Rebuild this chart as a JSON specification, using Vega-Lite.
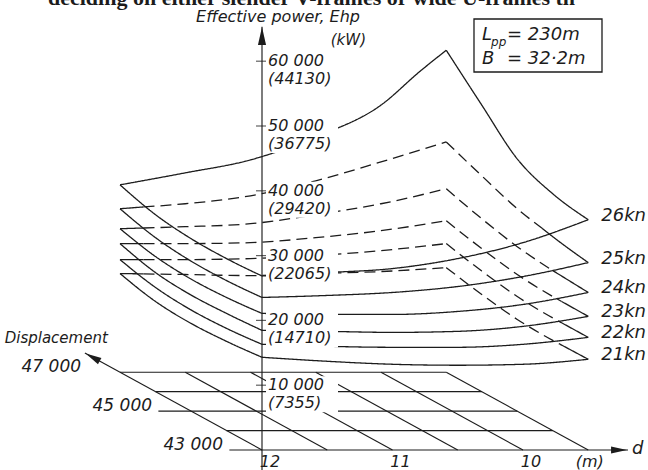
{
  "$schema": "https://vega.github.io/schema/vega-lite/v6.json",
  "width": 648,
  "height": 470,
  "autosize": {"type": "none"},
  "padding": 0,
  "background": "#ffffff",
  "config": {
    "view": {"stroke": null},
    "text": {"font": "DejaVu Sans", "fontStyle": "italic", "fontSize": 17, "color": "#1c1c1c"},
    "line": {"color": "#1c1c1c", "strokeWidth": 1.25}
  },
  "data": {
    "values": [
      {"k":"s","s":"26kn","e":"back","vis":"visible","d":12,"disp":47000,"ehp":28920},
      {"k":"s","s":"26kn","e":"back","vis":"visible","d":11.5,"disp":47000,"ehp":30770},
      {"k":"s","s":"26kn","e":"back","vis":"visible","d":11,"disp":47000,"ehp":32770},
      {"k":"s","s":"26kn","e":"back","vis":"visible","d":10.5,"disp":47000,"ehp":36310},
      {"k":"s","s":"26kn","e":"back","vis":"visible","d":10,"disp":47000,"ehp":41230},
      {"k":"s","s":"26kn","e":"back","vis":"visible","d":9.7,"disp":47000,"ehp":46460},
      {"k":"s","s":"26kn","e":"back","vis":"visible","d":9.5,"disp":47000,"ehp":49690},
      {"k":"s","s":"26kn","e":"right","vis":"visible","d":9.5,"disp":47000,"ehp":49690},
      {"k":"s","s":"26kn","e":"right","vis":"visible","d":9.5,"disp":46000,"ehp":44230},
      {"k":"s","s":"26kn","e":"right","vis":"visible","d":9.5,"disp":45000,"ehp":38920},
      {"k":"s","s":"26kn","e":"right","vis":"visible","d":9.5,"disp":44000,"ehp":36540},
      {"k":"s","s":"26kn","e":"right","vis":"visible","d":9.5,"disp":43000,"ehp":35540},
      {"k":"s","s":"26kn","e":"front","vis":"visible","d":12,"disp":43000,"ehp":26850},
      {"k":"s","s":"26kn","e":"front","vis":"visible","d":11.5,"disp":43000,"ehp":27380},
      {"k":"s","s":"26kn","e":"front","vis":"visible","d":11,"disp":43000,"ehp":28000},
      {"k":"s","s":"26kn","e":"front","vis":"visible","d":10.5,"disp":43000,"ehp":29540},
      {"k":"s","s":"26kn","e":"front","vis":"visible","d":10,"disp":43000,"ehp":32000},
      {"k":"s","s":"26kn","e":"front","vis":"visible","d":9.5,"disp":43000,"ehp":35540},
      {"k":"s","s":"26kn","e":"left","vis":"visible","d":12,"disp":47000,"ehp":28920},
      {"k":"s","s":"26kn","e":"left","vis":"visible","d":12,"disp":46000,"ehp":27310},
      {"k":"s","s":"26kn","e":"left","vis":"visible","d":12,"disp":45000,"ehp":26620},
      {"k":"s","s":"26kn","e":"left","vis":"visible","d":12,"disp":44000,"ehp":26540},
      {"k":"s","s":"26kn","e":"left","vis":"visible","d":12,"disp":43000,"ehp":26850},

      {"k":"s","s":"25kn","e":"back-v","vis":"visible","d":12,"disp":47000,"ehp":25230},
      {"k":"s","s":"25kn","e":"back-v","vis":"visible","d":11.82,"disp":47000,"ehp":25510},
      {"k":"s","s":"25kn","e":"back-h","vis":"hidden","d":11.82,"disp":47000,"ehp":25510},
      {"k":"s","s":"25kn","e":"back-h","vis":"hidden","d":11.5,"disp":47000,"ehp":26000},
      {"k":"s","s":"25kn","e":"back-h","vis":"hidden","d":11,"disp":47000,"ehp":27230},
      {"k":"s","s":"25kn","e":"back-h","vis":"hidden","d":10.5,"disp":47000,"ehp":29540},
      {"k":"s","s":"25kn","e":"back-h","vis":"hidden","d":10,"disp":47000,"ehp":32460},
      {"k":"s","s":"25kn","e":"back-h","vis":"hidden","d":9.5,"disp":47000,"ehp":35540},
      {"k":"s","s":"25kn","e":"right-h","vis":"hidden","d":9.5,"disp":47000,"ehp":35540},
      {"k":"s","s":"25kn","e":"right-h","vis":"hidden","d":9.5,"disp":46000,"ehp":33310},
      {"k":"s","s":"25kn","e":"right-h","vis":"hidden","d":9.5,"disp":45000,"ehp":31230},
      {"k":"s","s":"25kn","e":"right-h","vis":"hidden","d":9.5,"disp":44300,"ehp":30310},
      {"k":"s","s":"25kn","e":"right-v","vis":"visible","d":9.5,"disp":44300,"ehp":30310},
      {"k":"s","s":"25kn","e":"right-v","vis":"visible","d":9.5,"disp":44000,"ehp":29920},
      {"k":"s","s":"25kn","e":"right-v","vis":"visible","d":9.5,"disp":43000,"ehp":28920},
      {"k":"s","s":"25kn","e":"front","vis":"visible","d":12,"disp":43000,"ehp":23540},
      {"k":"s","s":"25kn","e":"front","vis":"visible","d":11.5,"disp":43000,"ehp":23850},
      {"k":"s","s":"25kn","e":"front","vis":"visible","d":11,"disp":43000,"ehp":24310},
      {"k":"s","s":"25kn","e":"front","vis":"visible","d":10.5,"disp":43000,"ehp":25230},
      {"k":"s","s":"25kn","e":"front","vis":"visible","d":10,"disp":43000,"ehp":26770},
      {"k":"s","s":"25kn","e":"front","vis":"visible","d":9.5,"disp":43000,"ehp":28920},
      {"k":"s","s":"25kn","e":"left","vis":"visible","d":12,"disp":47000,"ehp":25230},
      {"k":"s","s":"25kn","e":"left","vis":"visible","d":12,"disp":46000,"ehp":23770},
      {"k":"s","s":"25kn","e":"left","vis":"visible","d":12,"disp":45000,"ehp":23150},
      {"k":"s","s":"25kn","e":"left","vis":"visible","d":12,"disp":44000,"ehp":23150},
      {"k":"s","s":"25kn","e":"left","vis":"visible","d":12,"disp":43000,"ehp":23540},

      {"k":"s","s":"24kn","e":"back-v","vis":"visible","d":12,"disp":47000,"ehp":22150},
      {"k":"s","s":"24kn","e":"back-v","vis":"visible","d":11.82,"disp":47000,"ehp":22260},
      {"k":"s","s":"24kn","e":"back-h","vis":"hidden","d":11.82,"disp":47000,"ehp":22260},
      {"k":"s","s":"24kn","e":"back-h","vis":"hidden","d":11.5,"disp":47000,"ehp":22460},
      {"k":"s","s":"24kn","e":"back-h","vis":"hidden","d":11,"disp":47000,"ehp":22920},
      {"k":"s","s":"24kn","e":"back-h","vis":"hidden","d":10.5,"disp":47000,"ehp":24310},
      {"k":"s","s":"24kn","e":"back-h","vis":"hidden","d":10,"disp":47000,"ehp":26000},
      {"k":"s","s":"24kn","e":"back-h","vis":"hidden","d":9.5,"disp":47000,"ehp":28310},
      {"k":"s","s":"24kn","e":"right-h","vis":"hidden","d":9.5,"disp":47000,"ehp":28310},
      {"k":"s","s":"24kn","e":"right-h","vis":"hidden","d":9.5,"disp":46000,"ehp":26690},
      {"k":"s","s":"24kn","e":"right-h","vis":"hidden","d":9.5,"disp":45000,"ehp":25380},
      {"k":"s","s":"24kn","e":"right-h","vis":"hidden","d":9.5,"disp":44000,"ehp":24690},
      {"k":"s","s":"24kn","e":"right-v","vis":"visible","d":9.5,"disp":44000,"ehp":24690},
      {"k":"s","s":"24kn","e":"right-v","vis":"visible","d":9.5,"disp":43000,"ehp":24310},
      {"k":"s","s":"24kn","e":"front","vis":"visible","d":12,"disp":43000,"ehp":21080},
      {"k":"s","s":"24kn","e":"front","vis":"visible","d":11.5,"disp":43000,"ehp":20920},
      {"k":"s","s":"24kn","e":"front","vis":"visible","d":11,"disp":43000,"ehp":20920},
      {"k":"s","s":"24kn","e":"front","vis":"visible","d":10.5,"disp":43000,"ehp":21380},
      {"k":"s","s":"24kn","e":"front","vis":"visible","d":10,"disp":43000,"ehp":22460},
      {"k":"s","s":"24kn","e":"front","vis":"visible","d":9.5,"disp":43000,"ehp":24310},
      {"k":"s","s":"24kn","e":"left","vis":"visible","d":12,"disp":47000,"ehp":22150},
      {"k":"s","s":"24kn","e":"left","vis":"visible","d":12,"disp":46000,"ehp":20850},
      {"k":"s","s":"24kn","e":"left","vis":"visible","d":12,"disp":45000,"ehp":20380},
      {"k":"s","s":"24kn","e":"left","vis":"visible","d":12,"disp":44000,"ehp":20540},
      {"k":"s","s":"24kn","e":"left","vis":"visible","d":12,"disp":43000,"ehp":21080},

      {"k":"s","s":"23kn","e":"back-v","vis":"visible","d":12,"disp":47000,"ehp":19850},
      {"k":"s","s":"23kn","e":"back-v","vis":"visible","d":11.82,"disp":47000,"ehp":19850},
      {"k":"s","s":"23kn","e":"back-h","vis":"hidden","d":11.82,"disp":47000,"ehp":19850},
      {"k":"s","s":"23kn","e":"back-h","vis":"hidden","d":11.5,"disp":47000,"ehp":19850},
      {"k":"s","s":"23kn","e":"back-h","vis":"hidden","d":11,"disp":47000,"ehp":20000},
      {"k":"s","s":"23kn","e":"back-h","vis":"hidden","d":10.5,"disp":47000,"ehp":20770},
      {"k":"s","s":"23kn","e":"back-h","vis":"hidden","d":10,"disp":47000,"ehp":21850},
      {"k":"s","s":"23kn","e":"back-h","vis":"hidden","d":9.5,"disp":47000,"ehp":23380},
      {"k":"s","s":"23kn","e":"right-h","vis":"hidden","d":9.5,"disp":47000,"ehp":23380},
      {"k":"s","s":"23kn","e":"right-h","vis":"hidden","d":9.5,"disp":46000,"ehp":22080},
      {"k":"s","s":"23kn","e":"right-h","vis":"hidden","d":9.5,"disp":45000,"ehp":21080},
      {"k":"s","s":"23kn","e":"right-h","vis":"hidden","d":9.5,"disp":44000,"ehp":20690},
      {"k":"s","s":"23kn","e":"right-h","vis":"hidden","d":9.5,"disp":43750,"ehp":20670},
      {"k":"s","s":"23kn","e":"right-v","vis":"visible","d":9.5,"disp":43750,"ehp":20670},
      {"k":"s","s":"23kn","e":"right-v","vis":"visible","d":9.5,"disp":43000,"ehp":20620},
      {"k":"s","s":"23kn","e":"front","vis":"visible","d":12,"disp":43000,"ehp":18460},
      {"k":"s","s":"23kn","e":"front","vis":"visible","d":11.5,"disp":43000,"ehp":18310},
      {"k":"s","s":"23kn","e":"front","vis":"visible","d":11,"disp":43000,"ehp":18150},
      {"k":"s","s":"23kn","e":"front","vis":"visible","d":10.5,"disp":43000,"ehp":18310},
      {"k":"s","s":"23kn","e":"front","vis":"visible","d":10,"disp":43000,"ehp":19080},
      {"k":"s","s":"23kn","e":"front","vis":"visible","d":9.5,"disp":43000,"ehp":20620},
      {"k":"s","s":"23kn","e":"left","vis":"visible","d":12,"disp":47000,"ehp":19850},
      {"k":"s","s":"23kn","e":"left","vis":"visible","d":12,"disp":46000,"ehp":18380},
      {"k":"s","s":"23kn","e":"left","vis":"visible","d":12,"disp":45000,"ehp":17920},
      {"k":"s","s":"23kn","e":"left","vis":"visible","d":12,"disp":44000,"ehp":18080},
      {"k":"s","s":"23kn","e":"left","vis":"visible","d":12,"disp":43000,"ehp":18460},

      {"k":"s","s":"22kn","e":"back-v","vis":"visible","d":12,"disp":47000,"ehp":17380},
      {"k":"s","s":"22kn","e":"back-v","vis":"visible","d":11.82,"disp":47000,"ehp":17380},
      {"k":"s","s":"22kn","e":"back-h","vis":"hidden","d":11.82,"disp":47000,"ehp":17380},
      {"k":"s","s":"22kn","e":"back-h","vis":"hidden","d":11.5,"disp":47000,"ehp":17380},
      {"k":"s","s":"22kn","e":"back-h","vis":"hidden","d":11,"disp":47000,"ehp":17540},
      {"k":"s","s":"22kn","e":"back-h","vis":"hidden","d":10.5,"disp":47000,"ehp":18000},
      {"k":"s","s":"22kn","e":"back-h","vis":"hidden","d":10,"disp":47000,"ehp":18770},
      {"k":"s","s":"22kn","e":"back-h","vis":"hidden","d":9.5,"disp":47000,"ehp":19850},
      {"k":"s","s":"22kn","e":"right-h","vis":"hidden","d":9.5,"disp":47000,"ehp":19850},
      {"k":"s","s":"22kn","e":"right-h","vis":"hidden","d":9.5,"disp":46000,"ehp":18620},
      {"k":"s","s":"22kn","e":"right-h","vis":"hidden","d":9.5,"disp":45000,"ehp":17690},
      {"k":"s","s":"22kn","e":"right-h","vis":"hidden","d":9.5,"disp":44000,"ehp":17380},
      {"k":"s","s":"22kn","e":"right-h","vis":"hidden","d":9.5,"disp":43800,"ehp":17380},
      {"k":"s","s":"22kn","e":"right-v","vis":"visible","d":9.5,"disp":43800,"ehp":17380},
      {"k":"s","s":"22kn","e":"right-v","vis":"visible","d":9.5,"disp":43000,"ehp":17380},
      {"k":"s","s":"22kn","e":"front","vis":"visible","d":12,"disp":43000,"ehp":16310},
      {"k":"s","s":"22kn","e":"front","vis":"visible","d":11.5,"disp":43000,"ehp":16000},
      {"k":"s","s":"22kn","e":"front","vis":"visible","d":11,"disp":43000,"ehp":15850},
      {"k":"s","s":"22kn","e":"front","vis":"visible","d":10.5,"disp":43000,"ehp":15850},
      {"k":"s","s":"22kn","e":"front","vis":"visible","d":10,"disp":43000,"ehp":16310},
      {"k":"s","s":"22kn","e":"front","vis":"visible","d":9.5,"disp":43000,"ehp":17380},
      {"k":"s","s":"22kn","e":"left","vis":"visible","d":12,"disp":47000,"ehp":17380},
      {"k":"s","s":"22kn","e":"left","vis":"visible","d":12,"disp":46000,"ehp":16080},
      {"k":"s","s":"22kn","e":"left","vis":"visible","d":12,"disp":45000,"ehp":15620},
      {"k":"s","s":"22kn","e":"left","vis":"visible","d":12,"disp":44000,"ehp":15770},
      {"k":"s","s":"22kn","e":"left","vis":"visible","d":12,"disp":43000,"ehp":16310},

      {"k":"s","s":"21kn","e":"back-v","vis":"visible","d":12,"disp":47000,"ehp":15230},
      {"k":"s","s":"21kn","e":"back-v","vis":"visible","d":11.82,"disp":47000,"ehp":15180},
      {"k":"s","s":"21kn","e":"back-h","vis":"hidden","d":11.82,"disp":47000,"ehp":15180},
      {"k":"s","s":"21kn","e":"back-h","vis":"hidden","d":11.5,"disp":47000,"ehp":15080},
      {"k":"s","s":"21kn","e":"back-h","vis":"hidden","d":11,"disp":47000,"ehp":14920},
      {"k":"s","s":"21kn","e":"back-h","vis":"hidden","d":10.5,"disp":47000,"ehp":15230},
      {"k":"s","s":"21kn","e":"back-h","vis":"hidden","d":10,"disp":47000,"ehp":15540},
      {"k":"s","s":"21kn","e":"back-h","vis":"hidden","d":9.5,"disp":47000,"ehp":16150},
      {"k":"s","s":"21kn","e":"right-h","vis":"hidden","d":9.5,"disp":47000,"ehp":16150},
      {"k":"s","s":"21kn","e":"right-h","vis":"hidden","d":9.5,"disp":46000,"ehp":15000},
      {"k":"s","s":"21kn","e":"right-h","vis":"hidden","d":9.5,"disp":45000,"ehp":14150},
      {"k":"s","s":"21kn","e":"right-h","vis":"hidden","d":9.5,"disp":44000,"ehp":13920},
      {"k":"s","s":"21kn","e":"right-h","vis":"hidden","d":9.5,"disp":43800,"ehp":13940},
      {"k":"s","s":"21kn","e":"right-v","vis":"visible","d":9.5,"disp":43800,"ehp":13940},
      {"k":"s","s":"21kn","e":"right-v","vis":"visible","d":9.5,"disp":43000,"ehp":14000},
      {"k":"s","s":"21kn","e":"front","vis":"visible","d":12,"disp":43000,"ehp":14310},
      {"k":"s","s":"21kn","e":"front","vis":"visible","d":11.5,"disp":43000,"ehp":13690},
      {"k":"s","s":"21kn","e":"front","vis":"visible","d":11,"disp":43000,"ehp":13230},
      {"k":"s","s":"21kn","e":"front","vis":"visible","d":10.5,"disp":43000,"ehp":13080},
      {"k":"s","s":"21kn","e":"front","vis":"visible","d":10,"disp":43000,"ehp":13230},
      {"k":"s","s":"21kn","e":"front","vis":"visible","d":9.5,"disp":43000,"ehp":14000},
      {"k":"s","s":"21kn","e":"left","vis":"visible","d":12,"disp":47000,"ehp":15230},
      {"k":"s","s":"21kn","e":"left","vis":"visible","d":12,"disp":46000,"ehp":13920},
      {"k":"s","s":"21kn","e":"left","vis":"visible","d":12,"disp":45000,"ehp":13540},
      {"k":"s","s":"21kn","e":"left","vis":"visible","d":12,"disp":44000,"ehp":13770},
      {"k":"s","s":"21kn","e":"left","vis":"visible","d":12,"disp":43000,"ehp":14310},

      {"k":"g","id":"disp47000","d":12,"disp":47000,"ehp":0},
      {"k":"g","id":"disp47000","d":9.5,"disp":47000,"ehp":0},
      {"k":"g","id":"disp46000","d":12,"disp":46000,"ehp":0},
      {"k":"g","id":"disp46000","d":9.5,"disp":46000,"ehp":0},
      {"k":"g","id":"disp45000","d":12.25,"disp":45000,"ehp":0},
      {"k":"g","id":"disp45000","d":9.5,"disp":45000,"ehp":0},
      {"k":"g","id":"disp44000","d":12,"disp":44000,"ehp":0},
      {"k":"g","id":"disp44000","d":9.5,"disp":44000,"ehp":0},
      {"k":"g","id":"disp43000","d":12.25,"disp":43000,"ehp":0},
      {"k":"g","id":"disp43000","d":9.195,"disp":43000,"ehp":0},
      {"k":"g","id":"d11.5","d":11.5,"disp":43000,"ehp":0},
      {"k":"g","id":"d11.5","d":11.5,"disp":47000,"ehp":0},
      {"k":"g","id":"d11","d":11,"disp":43000,"ehp":0},
      {"k":"g","id":"d11","d":11,"disp":47000,"ehp":0},
      {"k":"g","id":"d10.5","d":10.5,"disp":43000,"ehp":0},
      {"k":"g","id":"d10.5","d":10.5,"disp":47000,"ehp":0},
      {"k":"g","id":"d10","d":10,"disp":43000,"ehp":0},
      {"k":"g","id":"d10","d":10,"disp":47000,"ehp":0},
      {"k":"g","id":"d9.5","d":9.5,"disp":43000,"ehp":0},
      {"k":"g","id":"d9.5","d":9.5,"disp":47000,"ehp":0},
      {"k":"g","id":"dispaxis","d":12,"disp":43000,"ehp":0},
      {"k":"g","id":"dispaxis","d":12,"disp":47990,"ehp":0},
      {"k":"g","id":"ehpaxis","d":12,"disp":43000,"ehp":-3500},
      {"k":"g","id":"ehpaxis","d":12,"disp":43000,"ehp":65300},

      {"k":"t","d":12,"disp":43000,"ehp":10000,"hp":"10 000","kw":"(7355)"},
      {"k":"t","d":12,"disp":43000,"ehp":20000,"hp":"20 000","kw":"(14710)"},
      {"k":"t","d":12,"disp":43000,"ehp":30000,"hp":"30 000","kw":"(22065)"},
      {"k":"t","d":12,"disp":43000,"ehp":40000,"hp":"40 000","kw":"(29420)"},
      {"k":"t","d":12,"disp":43000,"ehp":50000,"hp":"50 000","kw":"(36775)"},
      {"k":"t","d":12,"disp":43000,"ehp":60000,"hp":"60 000","kw":"(44130)"},

      {"k":"dl","d":12,"disp":47000,"ehp":0,"lab":"47 000"},
      {"k":"dl","d":12,"disp":45000,"ehp":0,"lab":"45 000"},
      {"k":"dl","d":12,"disp":43000,"ehp":0,"lab":"43 000"},

      {"k":"xl","d":12,"disp":43000,"ehp":0,"lab":"12"},
      {"k":"xl","d":11,"disp":43000,"ehp":0,"lab":"11"},
      {"k":"xl","d":10,"disp":43000,"ehp":0,"lab":"10"},
      {"k":"xl","d":9.55,"disp":43000,"ehp":0,"lab":"(m)"},

      {"k":"ar","id":"v","d":12,"disp":43000,"ehp":63900},
      {"k":"ar","id":"p","d":12,"disp":47770,"ehp":0},
      {"k":"ar","id":"h","d":9.264,"disp":43000,"ehp":0}
    ]
  },
  "transform": [
    {"calculate": "12 - datum.d - (datum.disp - 43000) * 0.000272", "as": "u"},
    {"calculate": "datum.ehp + (datum.disp - 43000) * 3", "as": "v"}
  ],
  "encoding": {
    "x": {"field": "u", "type": "quantitative", "scale": {"domain": [-2.0077, 2.9579], "nice": false, "zero": false}, "axis": null},
    "y": {"field": "v", "type": "quantitative", "scale": {"domain": [-3086, 69444], "nice": false, "zero": false}, "axis": null}
  },
  "layer": [
    {
      "transform": [{"filter": "datum.k == 'g'"}],
      "mark": {"type": "line", "strokeWidth": 1.15},
      "encoding": {"detail": {"field": "id"}}
    },
    {
      "transform": [{"filter": "datum.k == 's'"}],
      "mark": {"type": "line", "interpolate": "monotone", "strokeWidth": 1.3},
      "encoding": {
        "detail": [{"field": "s"}, {"field": "e"}],
        "strokeDash": {"field": "vis", "type": "nominal", "scale": {"domain": ["visible", "hidden"], "range": [[1, 0], [11, 6]]}, "legend": null}
      }
    },
    {
      "transform": [{"filter": "datum.k == 't'"}],
      "mark": {"type": "tick", "orient": "horizontal", "size": 12, "thickness": 1.2, "color": "#1c1c1c"}
    },
    {
      "transform": [{"filter": "datum.k == 't'"}],
      "mark": {"type": "rect", "color": "#ffffff", "opacity": 1, "xOffset": 4, "x2Offset": 76, "yOffset": -9, "y2Offset": 27},
      "encoding": {"x2": {"field": "u"}, "y2": {"field": "v"}}
    },
    {
      "transform": [{"filter": "datum.k == 'ar' && datum.id == 'v'"}],
      "mark": {"type": "point", "shape": "M0,-1L0.45,1L-0.45,1Z", "size": 324, "filled": true, "opacity": 1, "color": "#1c1c1c", "angle": 0}
    },
    {
      "transform": [{"filter": "datum.k == 'ar' && datum.id == 'p'"}],
      "mark": {"type": "point", "shape": "M0,-1L0.45,1L-0.45,1Z", "size": 256, "filled": true, "opacity": 1, "color": "#1c1c1c", "angle": 298.7}
    },
    {
      "transform": [{"filter": "datum.k == 'ar' && datum.id == 'h'"}],
      "mark": {"type": "point", "shape": "M0,-1L0.45,1L-0.45,1Z", "size": 256, "filled": true, "opacity": 1, "color": "#1c1c1c", "angle": 90}
    },
    {
      "transform": [{"filter": "datum.k == 't'"}],
      "mark": {"type": "text", "align": "left", "baseline": "middle", "dx": 6, "fontSize": 16},
      "encoding": {"text": {"field": "hp"}}
    },
    {
      "transform": [{"filter": "datum.k == 't'"}],
      "mark": {"type": "text", "align": "left", "baseline": "middle", "dx": 6, "dy": 18, "fontSize": 16},
      "encoding": {"text": {"field": "kw"}}
    },
    {
      "transform": [{"filter": "datum.k == 's' && datum.e == 'front' && datum.d == 9.5"}],
      "mark": {"type": "text", "align": "left", "baseline": "middle", "dx": 13, "dy": -4, "fontSize": 18},
      "encoding": {"text": {"field": "s"}}
    },
    {
      "transform": [{"filter": "datum.k == 'dl'"}],
      "mark": {"type": "text", "align": "right", "baseline": "middle", "dx": -39, "dy": -5},
      "encoding": {"text": {"field": "lab"}}
    },
    {
      "transform": [{"filter": "datum.k == 'xl'"}],
      "mark": {"type": "text", "align": "center", "baseline": "middle", "dx": 8, "dy": 12, "fontSize": 16},
      "encoding": {"text": {"field": "lab"}}
    },
    {
      "transform": [{"filter": "datum.k == 'ar' && datum.id == 'v'"}],
      "mark": {"type": "text", "text": "Effective power, Ehp", "align": "center", "baseline": "middle", "dx": 16, "dy": -19, "fontSize": 16}
    },
    {
      "transform": [{"filter": "datum.k == 'ar' && datum.id == 'v'"}],
      "mark": {"type": "text", "text": "(kW)", "align": "right", "baseline": "middle", "dx": 104, "dy": 4, "fontSize": 15}
    },
    {
      "transform": [{"filter": "datum.k == 'ar' && datum.id == 'p'"}],
      "mark": {"type": "text", "text": "Displacement", "align": "left", "baseline": "middle", "dx": -88, "dy": -19, "fontSize": 15}
    },
    {
      "transform": [{"filter": "datum.k == 'ar' && datum.id == 'h'"}],
      "mark": {"type": "text", "text": "d", "align": "left", "baseline": "middle", "dx": 13, "dy": -1, "fontSize": 18}
    },
    {
      "transform": [{"filter": "datum.k == 'ar' && datum.id == 'v'"}],
      "mark": {"type": "rect", "fillOpacity": 0, "stroke": "#1c1c1c", "strokeWidth": 1.3},
      "encoding": {
        "x": {"datum": 1.6245, "type": "quantitative"},
        "x2": {"datum": 2.6054},
        "y": {"datum": 66512, "type": "quantitative"},
        "y2": {"datum": 58333}
      }
    },
    {
      "transform": [{"filter": "datum.k == 'ar' && datum.id == 'v'"}],
      "mark": {"type": "text", "text": "L", "align": "left", "baseline": "middle", "fontSize": 18},
      "encoding": {"x": {"datum": 1.686, "type": "quantitative"}, "y": {"datum": 64043, "type": "quantitative"}}
    },
    {
      "transform": [{"filter": "datum.k == 'ar' && datum.id == 'v'"}],
      "mark": {"type": "text", "text": "pp", "align": "left", "baseline": "middle", "fontSize": 12, "dx": 9, "dy": 7},
      "encoding": {"x": {"datum": 1.686, "type": "quantitative"}, "y": {"datum": 64043, "type": "quantitative"}}
    },
    {
      "transform": [{"filter": "datum.k == 'ar' && datum.id == 'v'"}],
      "mark": {"type": "text", "text": "= 230m", "align": "left", "baseline": "middle", "fontSize": 18, "dx": 25},
      "encoding": {"x": {"datum": 1.686, "type": "quantitative"}, "y": {"datum": 64043, "type": "quantitative"}}
    },
    {
      "transform": [{"filter": "datum.k == 'ar' && datum.id == 'v'"}],
      "mark": {"type": "text", "text": "B", "align": "left", "baseline": "middle", "fontSize": 18},
      "encoding": {"x": {"datum": 1.686, "type": "quantitative"}, "y": {"datum": 60340, "type": "quantitative"}}
    },
    {
      "transform": [{"filter": "datum.k == 'ar' && datum.id == 'v'"}],
      "mark": {"type": "text", "text": "= 32·2m", "align": "left", "baseline": "middle", "fontSize": 18, "dx": 25},
      "encoding": {"x": {"datum": 1.686, "type": "quantitative"}, "y": {"datum": 60340, "type": "quantitative"}}
    },
    {
      "transform": [{"filter": "datum.k == 'ar' && datum.id == 'v'"}],
      "mark": {"type": "text", "text": "deciding on either slender V-frames or wide U-frames th", "align": "left", "baseline": "alphabetic", "font": "Liberation Serif", "fontStyle": "normal", "fontWeight": "bold", "fontSize": 22},
      "encoding": {"x": {"datum": -1.64, "type": "quantitative"}, "y": {"datum": 68673, "type": "quantitative"}}
    }
  ]
}
